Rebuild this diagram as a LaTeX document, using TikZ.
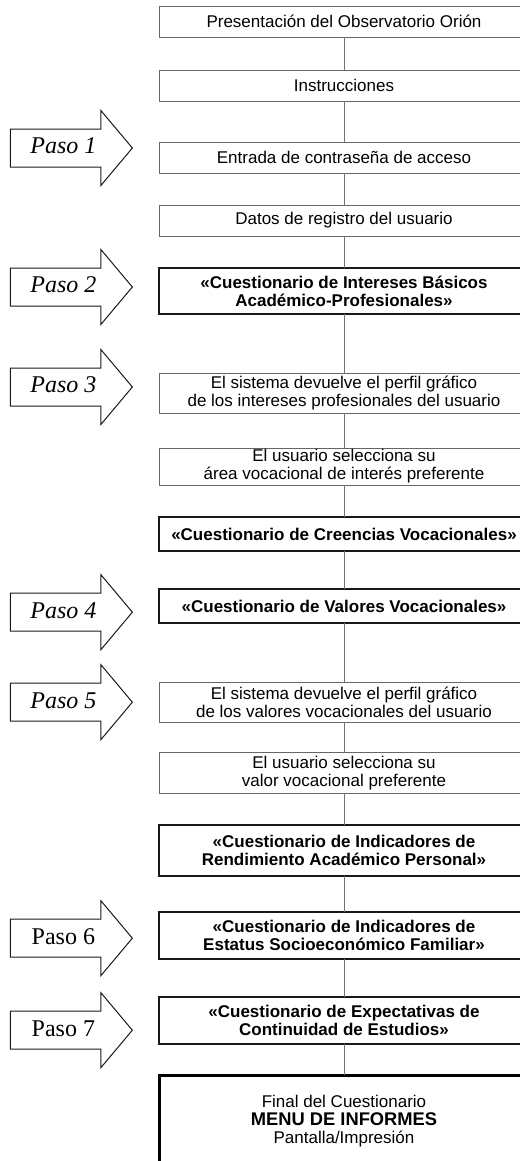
\documentclass[tikz,border=0pt]{standalone}
\usepackage{fontspec}
\setmainfont{Liberation Sans}
\newfontfamily\pasofont{Liberation Serif}
\usetikzlibrary{positioning, shapes.arrows}

\begin{document}
\begin{tikzpicture}[
        node distance=19.2pt,
        every node/.style={font=\fontsize{10.2}{10.8}\selectfont},
        box/.style={draw=black!60, line width=0.6pt, rectangle, outer sep=0pt, minimum width=222pt, inner sep=1pt, align=center},
        quest/.style={box, draw=black!90, line width=1.2pt, font=\fontsize{10.2}{10.8}\selectfont\bfseries},
        final/.style={box, draw=black, line width=1.8pt, minimum height=55.2pt},
        paso/.style={draw=black!90, line width=0.6pt, single arrow, anchor=tip, minimum height=73.2pt, minimum width=44.4pt, single arrow head extend=11.1pt, single arrow tip angle=100, text height=10pt, text depth=3pt, inner ysep=4.6pt, font=\pasofont\fontsize{14.4}{14.4}\selectfont},
        link/.style={draw=black!55, line width=0.6pt}
    ]

    \useasboundingbox (0,0) rectangle (312pt,-696.6pt);
    \clip (0,0) rectangle (312pt,-696.6pt);

    \node[box, minimum height=18.6pt] (pres) at (206.4pt,-12.9pt) {Presentación del Observatorio Orión};
    \node[box, minimum height=18.6pt, below=19.8pt of pres] (instr) {Instrucciones};
    \node[box, minimum height=18.6pt, below=24.6pt of instr] (clave) {Entrada de contraseña de acceso};
    \node[box, minimum height=18.6pt, below=of clave] (datos) {Datos de registro del usuario};
    \node[quest, minimum height=27.6pt, below=of datos] (intereses) {«Cuestionario de Intereses Básicos\\Académico-Profesionales»};
    \node[box, minimum height=24pt, below=35.4pt of intereses] (perfilint) {El sistema devuelve el perfil gráfico\\de los intereses profesionales del usuario};
    \node[box, minimum height=22.2pt, below=21pt of perfilint] (area) {El usuario selecciona su\\área vocacional de interés preferente};
    \node[quest, minimum height=20.4pt, below=of area] (creencias) {«Cuestionario de Creencias Vocacionales»};
    \node[quest, minimum height=20.4pt, below=22.8pt of creencias] (valores) {«Cuestionario de Valores Vocacionales»};
    \node[box, minimum height=24pt, below=35.4pt of valores] (perfilval) {El sistema devuelve el perfil gráfico\\de los valores vocacionales del usuario};
    \node[box, minimum height=24.6pt, below=18pt of perfilval] (valor) {El usuario selecciona su\\valor vocacional preferente};
    \node[quest, minimum height=30.6pt, below=of valor] (rendimiento) {«Cuestionario de Indicadores de\\Rendimiento Académico Personal»};
    \node[quest, minimum height=28.2pt, below=21.6pt of rendimiento] (estatus) {«Cuestionario de Indicadores de\\Estatus Socioeconómico Familiar»};
    \node[quest, minimum height=28.2pt, below=22.8pt of estatus] (expect) {«Cuestionario de Expectativas de\\Continuidad de Estudios»};
    \node[final, below=18.6pt of expect] (fin) {Final del Cuestionario\\{\fontsize{11}{11}\selectfont\bfseries MENU DE INFORMES}\\Pantalla/Impresión};

    % pasos
    \node[paso] (paso1) at ([xshift=-15.6pt, yshift=5.7pt]clave.west) {\itshape Paso 1};
    \node[paso] (paso2) at ([xshift=-15.6pt, yshift=2.4pt]intereses.west) {\itshape Paso 2};
    \node[paso] (paso3) at ([xshift=-15.6pt, yshift=3.6pt]perfilint.west) {\itshape Paso 3};
    \node[paso] (paso4) at ([xshift=-15.6pt, yshift=-3.6pt]valores.west) {\itshape Paso 4};
    \node[paso] (paso5) at ([xshift=-15.6pt]perfilval.west) {\itshape Paso 5};
    \node[paso] (paso6) at ([xshift=-15.6pt, yshift=-1.5pt]estatus.west) {Paso 6};
    \node[paso] (paso7) at ([xshift=-15.6pt, yshift=-5.7pt]expect.west) {Paso 7};

    \draw[link] (pres) -- (instr);
    \draw[link] (instr) -- (clave);
    \draw[link] (clave) -- (datos);
    \draw[link] (datos) -- (intereses);
    \draw[link] (intereses) -- (perfilint);
    \draw[link] (perfilint) -- (area);
    \draw[link] (area) -- (creencias);
    \draw[link] (creencias) -- (valores);
    \draw[link] (valores) -- (perfilval);
    \draw[link] (perfilval) -- (valor);
    \draw[link] (valor) -- (rendimiento);
    \draw[link] (rendimiento) -- (estatus);
    \draw[link] (estatus) -- (expect);
    \draw[link] (expect) -- (fin);

\end{tikzpicture}
\end{document}
